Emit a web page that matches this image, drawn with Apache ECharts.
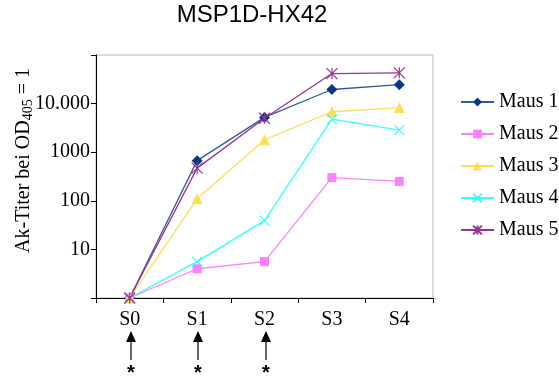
<!DOCTYPE html>
<html>
<head>
<meta charset="utf-8">
<script src="https://cdn.jsdelivr.net/npm/echarts@6/dist/echarts.min.js"></script>
<style>
  html, body { margin: 0; padding: 0; background: #fff; }
  #chart { width: 559px; height: 376px; }
</style>
</head>
<body>
<div id="chart"></div>
<script>
// sampling points (Seren) and titer values
const categories = ['S0', 'S1', 'S2', 'S3', 'S4']
const maus1 = [1, 670, 5200, 19500, 24500]
const maus2 = [1, 4, 5.6, 300, 250]
const maus3 = [1, 110, 1800, 6800, 8300]
const maus4 = [1, 5.6, 39, 4800, 2850]
const maus5 = [1, 470, 5000, 41500, 43000]
// immunisations marked with arrow + asterisk
const boosts = ['S0', 'S1', 'S2']

const serif = '"Liberation Serif", "DejaVu Serif", serif'
const sans = '"Liberation Sans", Arial, sans-serif'

const crossPath = 'path://M0,0L10,10M10,0L0,10'
const starPath = 'path://M5,0L5,10M0,0L10,10M10,0L0,10'

function makeSeries(name, data, color, symbol, size, stroke, lineColor) {
  return {
    name: name,
    type: 'line',
    data: data,
    symbol: symbol,
    symbolSize: size,
    showAllSymbol: true,
    lineStyle: { color: lineColor || color, width: 1.3 },
    itemStyle: stroke
      ? { color: 'rgba(0,0,0,0)', borderColor: color, borderWidth: 1.2 }
      : { color: color, borderWidth: 0 },
    emphasis: { disabled: true },
    animation: false
  }
}

const chart = echarts.init(document.getElementById('chart'))

chart.setOption({
  backgroundColor: '#fff',
  title: {
    text: 'MSP1D-HX42',
    left: 252,
    textAlign: 'center',
    top: 3,
    padding: 0,
    textStyle: { fontFamily: sans, fontSize: 24, fontWeight: 'normal', color: '#000' }
  },
  grid: {
    left: 96,
    right: 126,
    top: 55,
    bottom: 78,
    outerBoundsMode: 'none',
    containLabel: false,
    show: true,
    borderColor: '#b8b8b8',
    borderWidth: 1
  },
  legend: {
    orient: 'vertical',
    left: 460,
    top: 92,
    padding: 0,
    itemGap: 12,
    itemWidth: 33,
    itemHeight: 11,
    textStyle: { fontFamily: serif, fontSize: 20, color: '#000' },
    data: ['Maus 1', 'Maus 2', 'Maus 3', 'Maus 4', 'Maus 5']
  },
  xAxis: {
    type: 'category',
    data: categories,
    boundaryGap: true,
    axisLine: { lineStyle: { color: '#000', width: 1 } },
    axisTick: { show: true, length: 5, lineStyle: { color: '#000' } },
    axisLabel: { fontFamily: serif, fontSize: 20, color: '#000', margin: 12 },
    splitLine: { show: false }
  },
  yAxis: {
    type: 'log',
    logBase: 10,
    min: 1,
    max: 100000,
    name: 'Ak-Titer bei OD{sub|405} = 1',
    nameLocation: 'middle',
    nameGap: 61,
    nameMoveOverlap: false,
    nameTextStyle: {
      fontFamily: serif,
      fontSize: 20,
      color: '#000',
      padding: [0, 0, 0, 32],
      rich: {
        sub: { fontFamily: serif, fontSize: 14, color: '#000', verticalAlign: 'bottom', padding: [8, 0, 0, 0] }
      }
    },
    axisLine: { show: true, lineStyle: { color: '#000', width: 1 } },
    axisTick: { show: true, length: 5, lineStyle: { color: '#000' } },
    axisLabel: {
      fontFamily: serif,
      fontSize: 20,
      color: '#000',
      margin: 6,
      formatter: function (v) {
        if (v <= 1 || v >= 100000) return ''
        return v >= 10000 ? String(v).replace(/(\d)(?=(\d{3})+$)/g, '$1.') : String(v)
      }
    },
    splitLine: { show: false },
    minorTick: { show: false }
  },
  series: [
    makeSeries('Maus 1', maus1, '#063a86', 'diamond', 11, false, '#2d5f9c'),
    makeSeries('Maus 2', maus2, '#ff80ff', 'rect', 9, false),
    makeSeries('Maus 3', maus3, '#ffdd55', 'triangle', 11, false),
    makeSeries('Maus 4', maus4, '#33ffff', crossPath, 10, true),
    makeSeries('Maus 5', maus5, '#993399', starPath, 11, true)
  ]
})

// arrows + asterisks under the immunisation time points
const marks = []
boosts.forEach(function (c) {
  const x = Math.round(chart.convertToPixel({ xAxisIndex: 0 }, c)) + 1
  marks.push({
    type: 'polygon',
    shape: { points: [[x, 331], [x - 5, 342], [x + 5, 342]] },
    style: { fill: '#000' }
  })
  marks.push({
    type: 'line',
    shape: { x1: x, y1: 341, x2: x, y2: 360 },
    style: { stroke: '#000', lineWidth: 1.2 }
  })
  marks.push({
    type: 'text',
    x: x,
    y: 373,
    style: { text: '*', fontFamily: sans, fontSize: 20, fontWeight: 'bold', fill: '#000', align: 'center', verticalAlign: 'middle' }
  })
})
chart.setOption({ graphic: marks })
</script>
</body>
</html>
